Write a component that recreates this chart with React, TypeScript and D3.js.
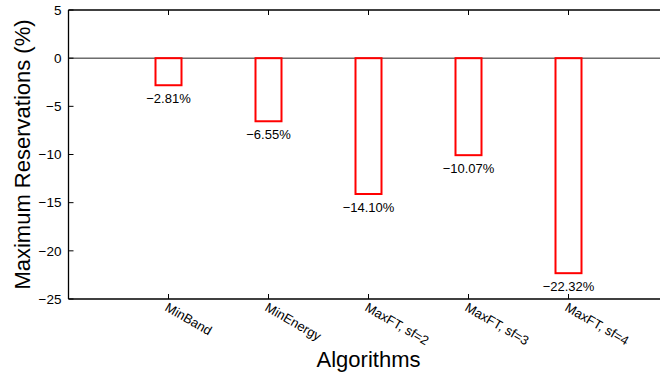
import React from "react";
import * as d3 from "d3";

const algorithms = ["MinBand", "MinEnergy", "MaxFT, sf=2", "MaxFT, sf=3", "MaxFT, sf=4"];
const reservations = [-2.81, -6.55, -14.1, -10.07, -22.32];
const yTicks = [5, 0, -5, -10, -15, -20, -25];

class ReservationsBar extends React.Component {
  constructor(props: any) {
    super(props);
    this.createBarChart = this.createBarChart.bind(this);
  }

  componentDidMount() {
    this.createBarChart();
  }

  createBarChart() {
    document.body.style.margin = "0";
    var margin = { top: 10, left: 68.5, bottom: 77 },
      fullW = 660,
      fullH = 376,
      height = fullH - margin.top - margin.bottom;

    var root = d3.select("#reservationsBar");
    root.selectAll("*").remove();
    var svg = root
      .append("svg")
      .attr("width", fullW)
      .attr("height", fullH)
      .style("display", "block")
      .style("font-family", "'Liberation Sans', Arial, sans-serif");

    var g = svg.append("g").attr("transform", "translate(" + margin.left + "," + margin.top + ")");

    // x: one unit per algorithm, plot runs past the right edge of the picture
    var x = d3.scaleLinear().domain([0, 6]).range([0, 600]);
    var y = d3.scaleLinear().domain([-25, 5]).range([height, 0]);

    // frame: left, top, bottom
    g.append("line").attr("x1", 0).attr("x2", 0).attr("y1", 0).attr("y2", height).attr("stroke", "#000").attr("stroke-width", 1.3);
    g.append("line").attr("x1", 0).attr("x2", 620).attr("y1", 0).attr("y2", 0).attr("stroke", "#000").attr("stroke-width", 1.3);
    g.append("line").attr("x1", 0).attr("x2", 620).attr("y1", height).attr("y2", height).attr("stroke", "#000").attr("stroke-width", 1.3);

    // zero line
    g.append("line")
      .attr("x1", 0)
      .attr("x2", 620)
      .attr("y1", y(0))
      .attr("y2", y(0))
      .attr("stroke", "#222")
      .attr("stroke-width", 1);

    // y ticks (inward) and labels
    yTicks.forEach(function (t) {
      g.append("line").attr("x1", 0).attr("x2", 5).attr("y1", y(t)).attr("y2", y(t)).attr("stroke", "#000");
      g.append("text")
        .attr("x", -7)
        .attr("y", y(t))
        .attr("dy", "0.35em")
        .attr("text-anchor", "end")
        .attr("font-size", 13.5)
        .text(d3.format("")(t).replace("-", "\u2212"));
    });

    // x ticks top and bottom, rotated labels
    algorithms.forEach(function (a, i) {
      var cx = x(i + 1);
      g.append("line").attr("x1", cx).attr("x2", cx).attr("y1", 0).attr("y2", 5).attr("stroke", "#000");
      g.append("line").attr("x1", cx).attr("x2", cx).attr("y1", height).attr("y2", height - 5).attr("stroke", "#000");
      g.append("text")
        .attr("transform", "translate(" + (cx - 4.5) + "," + (height + 11) + ") rotate(30)")
        .attr("font-size", 13)
        .text(a);
    });

    var bw = x(0.26) - x(0);
    g.selectAll("rect.bar")
      .data(reservations)
      .enter()
      .append("rect")
      .attr("class", "bar")
      .attr("x", function (d, i) {
        return x(i + 1) - bw / 2;
      })
      .attr("y", y(0))
      .attr("width", bw)
      .attr("height", function (d) {
        return y(d) - y(0);
      })
      .attr("fill", "none")
      .attr("stroke", "#ff0000")
      .attr("stroke-width", 2);

    g.selectAll("text.val")
      .data(reservations)
      .enter()
      .append("text")
      .attr("class", "val")
      .attr("x", function (d, i) {
        return x(i + 1);
      })
      .attr("y", function (d) {
        return y(d) + 18;
      })
      .attr("text-anchor", "middle")
      .attr("font-size", 13)
      .text(function (d) {
        return "\u2212" + d3.format(".2f")(-d) + "%";
      });

    // axis titles
    svg
      .append("text")
      .attr("transform", "translate(30," + (margin.top + height / 2) + ") rotate(-90)")
      .attr("text-anchor", "middle")
      .attr("font-size", 22)
      .text("Maximum Reservations (%)");
    svg
      .append("text")
      .attr("x", margin.left + x(3))
      .attr("y", 367)
      .attr("text-anchor", "middle")
      .attr("font-size", 22)
      .text("Algorithms");
  }

  render() {
    return <div id="reservationsBar"></div>;
  }
}

export default function App() {
  return <ReservationsBar />;
}
